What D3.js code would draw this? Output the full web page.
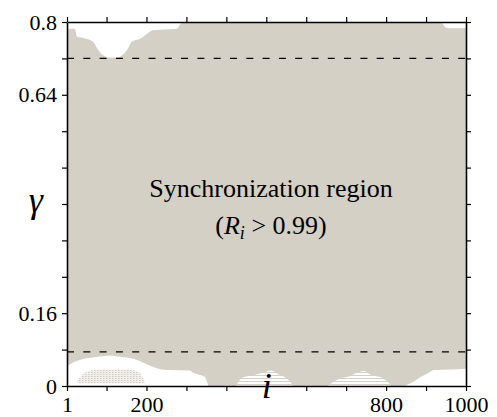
<!DOCTYPE html>
<html><head><meta charset="utf-8">
<script src="https://cdn.jsdelivr.net/npm/d3@7"></script>
<style>
body{margin:0;background:#fff}
</style>
</head><body>
<svg id="chart" width="497" height="417"></svg>
<script>
// ---- data ----
const xDomain = [1, 1000];
const yDomain = [0, 0.8];
const xTicks = [1, 100, 200, 300, 400, 500, 600, 700, 800, 900, 1000];
const xTickLabels = ["1", "", "200", "", "", "i", "", "", "800", "", "1000"];
const yTicks = [0, 0.08, 0.16, 0.24, 0.32, 0.4, 0.48, 0.56, 0.64, 0.72, 0.8];
const yTickLabels = ["0", "", "0.16", "", "", "γ", "", "", "0.64", "", "0.8"];
const thresholds = [0.075, 0.72];

// upper white (non-synchronized) region: lower boundary γ as function of i
const topWhiteLeft = [
  [1,0.785],[21,0.785],[26,0.768],[46,0.764],[66,0.757],[76,0.743],[91,0.727],
  [109,0.722],[126,0.722],[151,0.738],[164,0.757],[184,0.763],[204,0.776],
  [216,0.782],[276,0.785],[284,0.794],[289,0.8]
];
const topWhiteRight = [
  [939,0.8],[944,0.793],[952,0.787],[965,0.786],[990,0.786],[1000,0.787]
];
// lower white region: upper boundary γ as function of i
const bottomWhiteLeft = [
  [1,0.044],[8,0.048],[25,0.055],[50,0.061],[75,0.064],[109,0.0666],[138,0.064],
  [163,0.061],[188,0.053],[205,0.046],[226,0.039],[251,0.035],[309,0.034],
  [317,0.029],[334,0.024],[346,0.02],[352,0.008],[355,0]
];
// speckled (partially synchronized) zone inside the lower-left white region: [i, low, high]
const speckle = [
  [25,0.008,0.01],[40,0.006,0.025],[55,0.006,0.033],[80,0.006,0.036],
  [150,0.006,0.036],[175,0.006,0.033],[190,0.006,0.02],[196,0.006,0.008]
];
// streaky white patches near γ = 0: [i, high]
const streakA = [
  [425,0.002],[440,0.018],[470,0.024],[495,0.03],[512,0.034],[530,0.026],[555,0.014],[566,0.002]
];
const streakB = [
  [656,0.002],[680,0.015],[710,0.022],[730,0.03],[745,0.033],[762,0.025],[790,0.018],[810,0.004]
];
const streakC = [
  [850,0.002],[870,0.01],[885,0.019],[900,0.026],[910,0.031],[920,0.035],[960,0.036],[1000,0.038]
];

// ---- layout ----
const FONT = '"Liberation Serif"';
const W = 497, H = 417;
const m = {left: 67, top: 22, right: 31, bottom: 31};
const iw = W - m.left - m.right, ih = H - m.top - m.bottom;
const svg = d3.select("#chart");
const g = svg.append("g").attr("transform", `translate(${m.left},${m.top})`);
const x = d3.scaleLinear().domain(xDomain).range([0, iw]);
const y = d3.scaleLinear().domain(yDomain).range([ih, 0]);

const grey = "#d4d0c6";
const defs = svg.append("defs");
defs.append("clipPath").attr("id","clip")
  .append("rect").attr("width", iw).attr("height", ih);
// horizontal white striation texture
const pStripe = defs.append("pattern").attr("id","stripe")
  .attr("patternUnits","userSpaceOnUse").attr("width", 6).attr("height", 3);
pStripe.append("rect").attr("width", 6).attr("height", 3).attr("fill", grey);
pStripe.append("rect").attr("width", 6).attr("height", 2).attr("fill", "#fff");
// speckle texture
const pDot = defs.append("pattern").attr("id","dots")
  .attr("patternUnits","userSpaceOnUse").attr("width", 3).attr("height", 2);
pDot.append("rect").attr("width", 3).attr("height", 2).attr("fill", "#f2f0ec");
pDot.append("rect").attr("width", 1.5).attr("height", 1).attr("fill", "#cfcbc1");

const plot = g.append("g").attr("clip-path","url(#clip)");
plot.append("rect").attr("width", iw).attr("height", ih).attr("fill", grey);

const curve = d3.curveMonotoneX;
const areaTop = d3.area().x(d => x(d[0])).y0(y(yDomain[1])).y1(d => y(d[1])).curve(curve);
const areaBottom = d3.area().x(d => x(d[0])).y0(y(0)).y1(d => y(d[1])).curve(curve);
const areaBand = d3.area().x(d => x(d[0])).y0(d => y(d[1])).y1(d => y(d[2])).curve(curve);

plot.append("path").datum(topWhiteLeft).attr("d", areaTop).attr("fill", "#fff");
plot.append("path").datum(topWhiteRight).attr("d", areaTop).attr("fill", "#fff");
plot.append("path").datum(bottomWhiteLeft).attr("d", areaBottom).attr("fill", "#fff");
plot.append("path").datum(speckle).attr("d", areaBand).attr("fill", "url(#dots)");
[streakA, streakB].forEach(s =>
  plot.append("path").datum(s).attr("d", areaBottom).attr("fill", "url(#stripe)"));
plot.append("path").datum(streakC).attr("d", areaBottom).attr("fill", "#fff");

// threshold dashed lines
g.selectAll(".thr").data(thresholds).join("line")
  .attr("x1", 0).attr("x2", iw)
  .attr("y1", d => y(d)).attr("y2", d => y(d))
  .attr("stroke", "#000").attr("stroke-width", 1.4).attr("stroke-dasharray", "7,9.3");

// ---- axes ----
function styleAxis(sel){
  sel.attr("font-family", FONT);
  sel.select(".domain").attr("stroke","#000").attr("stroke-width",1.6);
  sel.selectAll(".tick line").attr("stroke","#000").attr("stroke-width",1.2);
}
const ax = g.append("g").attr("transform", `translate(0,${ih})`)
  .call(d3.axisBottom(x).tickValues(xTicks).tickSize(5).tickPadding(5).tickSizeOuter(0)
    .tickFormat((d,k) => xTickLabels[k]));
styleAxis(ax);
ax.selectAll("text").attr("font-size", 22).attr("font-family", FONT).attr("fill", "#000");
ax.selectAll("text").filter(t => xTickLabels[xTicks.indexOf(t)] === "i")
  .attr("font-size", 36).attr("font-style", "italic").attr("dy", "0.12em").attr("y", 8);

const axT = g.append("g")
  .call(d3.axisTop(x).tickValues(xTicks).tickSize(5).tickSizeOuter(0).tickFormat(""));
styleAxis(axT);

const ay = g.append("g")
  .call(d3.axisLeft(y).tickValues(yTicks).tickSize(5).tickPadding(5).tickSizeOuter(0)
    .tickFormat((d,k) => yTickLabels[k]));
styleAxis(ay);
ay.selectAll("text").attr("font-size", 22).attr("font-family", FONT).attr("fill", "#000");
ay.selectAll("text").filter(t => yTickLabels[yTicks.indexOf(t)] === "γ")
  .attr("font-size", 36).attr("font-style", "italic").attr("x", -24).attr("dy", "0.2em");

const ayR = g.append("g").attr("transform", `translate(${iw},0)`)
  .call(d3.axisRight(y).tickValues(yTicks).tickSize(5).tickSizeOuter(0).tickFormat(""));
styleAxis(ayR);

// ---- annotation ----
const cx = 204;
g.append("text").attr("x", cx).attr("y", 175).attr("text-anchor","middle")
  .attr("font-family", FONT).attr("font-size", 26).attr("fill", "#000").text("Synchronization region");
const t2 = g.append("text").attr("x", cx).attr("y", 212).attr("text-anchor","middle")
  .attr("font-family", FONT).attr("font-size", 26).attr("fill", "#000");
t2.append("tspan").text("(");
t2.append("tspan").attr("font-style","italic").text("R");
t2.append("tspan").attr("font-style","italic").attr("font-size", 18).attr("dy", 5).text("i");
t2.append("tspan").attr("dy", -5).text(" > 0.99)");
</script>
</body></html>
